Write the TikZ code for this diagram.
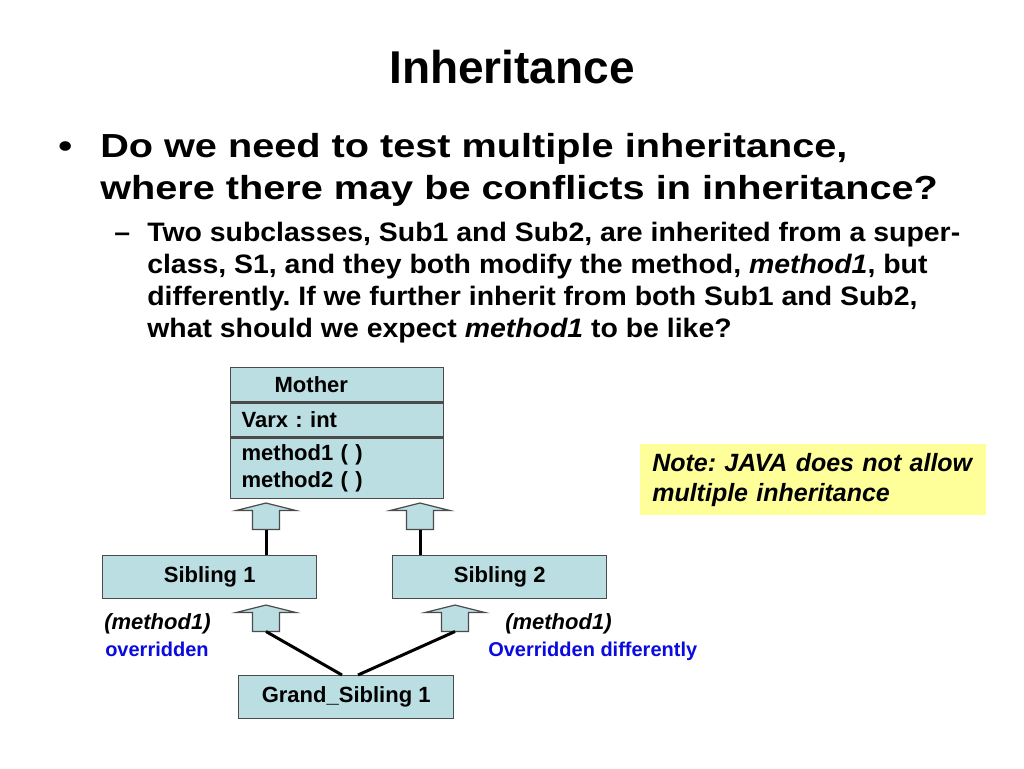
\documentclass[tikz,border=0pt]{standalone}
\usepackage{fontspec}
\setmainfont{Liberation Sans}
\newfontfamily\widefont{Liberation Sans}[FakeStretch=1.19]
\newfontfamily\subfont{Liberation Sans}[FakeStretch=1.066]
\usetikzlibrary{positioning}
\frenchspacing

\definecolor{boxblue}{RGB}{186,222,225}
\definecolor{edgegray}{RGB}{75,75,75}
\definecolor{noteyellow}{RGB}{255,255,153}
\definecolor{labelblue}{RGB}{10,10,225}

\newcommand\px{0.75pt}

\tikzset{
	classbox/.style={draw=edgegray, line width=1pt, fill=boxblue, inner sep=0pt, minimum height=43*\px, font=\fontsize{16.5}{20.25}\selectfont\bfseries},
	txt/.style={inner sep=0pt, anchor=base west},
	link/.style={line width=2.25pt, black},
	arrowbox/.style={draw=edgegray, line width=0.9pt, fill=boxblue, line join=miter},
	uparrow/.pic={
		\draw [arrowbox] (0,0) -- (30,7.5) -- (13.5,7.5) -- (13.5,26.5) -- (-13.5,26.5) -- (-13.5,7.5) -- (-30,7.5) -- cycle;
		\coordinate (-foot) at (0,26.5);
	}
}

\begin{document}
\begin{tikzpicture}[x=0.75pt, y=-0.75pt]
	\fill [white] (0,0) rectangle (1024,768);
	\useasboundingbox (0,0) rectangle (1024,768);
	% heading and text
	\node [inner sep=0pt, anchor=base, font=\fontsize{34.5}{40}\selectfont\bfseries] (T) at (512,83) {Inheritance};
	\node [txt, font=\widefont\fontsize{25}{30}\selectfont\bfseries] (D) at (58,157.5) {\textbullet};
	\node [txt, font=\widefont\fontsize{25}{30}\selectfont\bfseries] (P1) at (100,157.5) {Do we need to test multiple inheritance,};
	\node [txt, font=\widefont\fontsize{25}{30}\selectfont\bfseries] (P2) at (100,199.5) {where there may be conflicts in inheritance?};
	\node [txt, font=\subfont\fontsize{20}{24}\selectfont\bfseries] (E) at (114,241) {\textendash};
	\node [txt, font=\subfont\fontsize{20}{24}\selectfont\bfseries] (Q1) at (147,241) {Two subclasses, Sub1 and Sub2, are inherited from a super-};
	\node [txt, font=\subfont\fontsize{20}{24}\selectfont\bfseries] (Q2) at (147,273) {class, S1, and they both modify the method, \textit{method1}, but};
	\node [txt, font=\subfont\fontsize{20}{24}\selectfont\bfseries] (Q3) at (147,305) {differently. If we further inherit from both Sub1 and Sub2,};
	\node [txt, font=\subfont\fontsize{20}{24}\selectfont\bfseries] (Q4) at (147,337) {what should we expect \textit{method1} to be like?};

	% class diagram
	\node [classbox, anchor=north west, minimum width=213*\px, minimum height=34*\px, text width=191*\px, align=left] (M) at (230,367) {\hspace*{24.75pt}Mother};
	\node [classbox, below=0pt of M, minimum width=213*\px, minimum height=34*\px, text width=191*\px, align=left] (V) {Varx : int};
	\node [classbox, below=0pt of V, minimum width=213*\px, minimum height=60*\px, text width=191*\px, align=left] (F) {method1 ( )\\method2 ( )};
	\node [classbox, anchor=north west, minimum width=214*\px] (S1) at (102,555) {Sibling 1};
	\node [classbox, anchor=north west, minimum width=214*\px] (S2) at (392,555) {Sibling 2};
	\node [classbox, anchor=north west, minimum width=215*\px] (G) at (238,675) {Grand\_Sibling 1};
	\pic (a1) at (266,503) {uparrow};
	\pic (a2) at (420,503) {uparrow};
	\pic (a3) at (266,605) {uparrow};
	\pic (a4) at (455,605) {uparrow};
	\coordinate (g1) at (342,675);
	\coordinate (g2) at (358,675);
	\draw [link] (a1-foot) -- (a1-foot |- S1.north);
	\draw [link] (a2-foot) -- (a2-foot |- S2.north);
	\draw [link] (a3-foot) -- (g1);
	\draw [link] (a4-foot) -- (g2);

	% labels
	\node [txt, font=\fontsize{16.5}{20}\selectfont\bfseries\itshape] (L1) at (104,629) {(method1)};
	\node [txt, font=\fontsize{15}{18}\selectfont\bfseries, text=labelblue] (L2) at (105,656) {overridden};
	\node [txt, font=\fontsize{16.5}{20}\selectfont\bfseries\itshape] (L3) at (505,629) {(method1)};
	\node [txt, font=\fontsize{15}{18}\selectfont\bfseries, text=labelblue] (L4) at (488,656) {Overridden differently};

	% note
	\node [fill=noteyellow, anchor=north west, inner xsep=12*\px, inner ysep=0pt, minimum width=346*\px, minimum height=71*\px, text width=322*\px, align=left, font=\fontsize{18.75}{22.5}\selectfont\bfseries\itshape] (N) at (640,444) {\mbox{Note: JAVA does not allow}\\multiple inheritance};
\end{tikzpicture}
\end{document}
